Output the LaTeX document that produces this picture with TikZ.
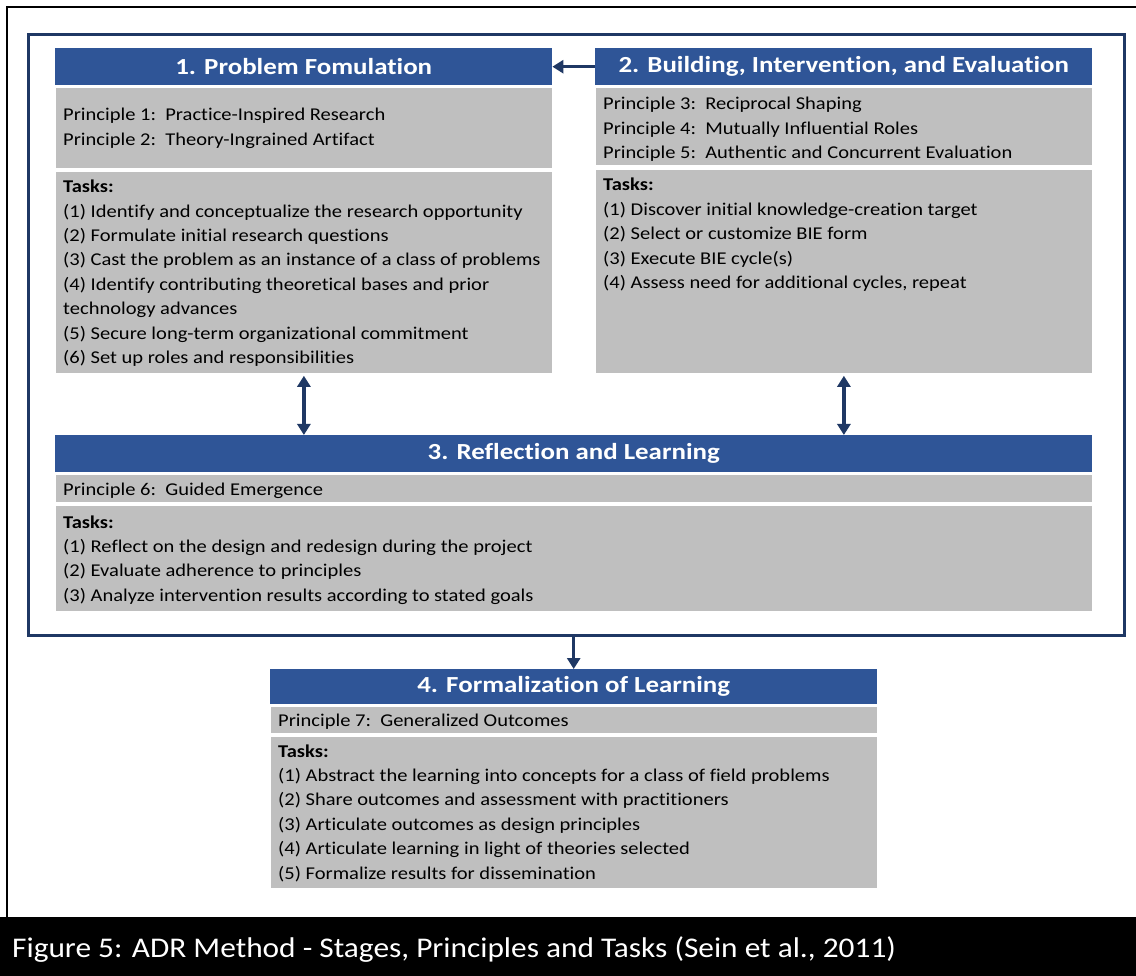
\documentclass[tikz,border=0pt]{standalone}
\usepackage{fontspec}
\setmainfont{Carlito}
\newfontfamily\bodyfont{Carlito}[FakeStretch=1.14,Ligatures=NoCommon]
\newfontfamily\headfont{Carlito}[FakeStretch=1.17,Ligatures=NoCommon]
\newfontfamily\captionfont{Carlito}[FakeStretch=1.1,Ligatures=NoCommon]
\usetikzlibrary{arrows.meta}
\definecolor{hdrblue}{HTML}{2F5597}
\definecolor{navy}{HTML}{1F3864}
\definecolor{panelgray}{HTML}{BFBFBF}
\begin{document}
\begin{tikzpicture}[x=1pt,y=-1pt,
  hdr/.style={fill=hdrblue, text=white, inner sep=0pt, anchor=north west,
    font=\headfont\bfseries\fontsize{23}{28}\selectfont},
  panel/.style={fill=panelgray, draw=white, line width=0.8pt, inner sep=0pt, anchor=north west},
  % body text blocks are placed by the baseline of their last line
  body/.style={anchor=base west, inner sep=0pt, align=left, text=black,
    font=\bodyfont\fontsize{18}{24.4}\selectfont},
  link/.style={draw=navy, line width=3.5pt, -{Triangle[width=13pt,length=11pt]}},
  both/.style={draw=navy, line width=3.5pt,
    {Triangle[width=13pt,length=11pt]}-{Triangle[width=13pt,length=11pt]}},
]
\useasboundingbox (0,0) rectangle (1136,976);
\fill[white] (0,0) rectangle (1136,976);

% outer page frame and caption bar
\draw[black, line width=2.5pt] (1140,7) -- (7,7) -- (7,920);
\fill[black] (0,917) rectangle (1136,976);
\node[anchor=base west, text=white, inner sep=0pt, font=\captionfont\fontsize{28.5}{34}\selectfont]
  (caption) at (12,957) {Figure 5: ADR Method - Stages, Principles and Tasks (Sein et al., 2011)};

% frame around stages 1-3
\node[draw=navy, line width=3pt, anchor=north west, inner sep=0pt,
  minimum width=1096pt, minimum height=601pt] (frame) at (27,33) {};

% stage 1
\node[hdr, minimum width=497pt, minimum height=37pt] (h1) at (55,48) {1. Problem Fomulation};
\node[panel, minimum width=497pt, minimum height=81pt] (p1) at (55,87) {};
\node[panel, minimum width=497pt, minimum height=202pt] (t1) at (55,171) {};
\node[body] (p1txt) at (63,145.4) {Principle 1:\ \ Practice-Inspired Research\\
  Principle 2:\ \ Theory-Ingrained Artifact};
\node[body] (t1txt) at (63,363.6) {\textbf{Tasks:}\\
  (1) Identify and conceptualize the research opportunity\\
  (2) Formulate initial research questions\\
  (3) Cast the problem as an instance of a class of problems\\
  (4) Identify contributing theoretical bases and prior\\
  technology advances\\
  (5) Secure long-term organizational commitment\\
  (6) Set up roles and responsibilities};

% stage 2
\node[hdr, minimum width=497pt, minimum height=37pt] (h2) at (595,48) {2. Building, Intervention, and Evaluation};
\node[panel, minimum width=497pt, minimum height=78pt] (p2) at (595,87) {};
\node[panel, minimum width=497pt, minimum height=204pt] (t2) at (595,169) {};
\node[body] (p2txt) at (603,158.8) {Principle 3:\ \ Reciprocal Shaping\\
  Principle 4:\ \ Mutually Influential Roles\\
  Principle 5:\ \ Authentic and Concurrent Evaluation};
\node[body] (t2txt) at (603,288.6) {\textbf{Tasks:}\\
  (1) Discover initial knowledge-creation target\\
  (2) Select or customize BIE form\\
  (3) Execute BIE cycle(s)\\
  (4) Assess need for additional cycles, repeat};

% stage 3
\node[hdr, minimum width=1037pt, minimum height=37pt] (h3) at (55,435) {3. Reflection and Learning};
\node[panel, minimum width=1037pt, minimum height=28pt] (p3) at (55,474) {};
\node[panel, minimum width=1037pt, minimum height=106pt] (t3) at (55,505) {};
\node[body] (p3txt) at (63,495) {Principle 6:\ \ Guided Emergence};
\node[body] (t3txt) at (63,601.2) {\textbf{Tasks:}\\
  (1) Reflect on the design and redesign during the project\\
  (2) Evaluate adherence to principles\\
  (3) Analyze intervention results according to stated goals};

% stage 4
\node[hdr, minimum width=607pt, minimum height=35pt] (h4) at (270,669) {4. Formalization of Learning};
\node[panel, minimum width=607pt, minimum height=27pt] (p4) at (270,706) {};
\node[panel, minimum width=607pt, minimum height=152pt] (t4) at (270,736) {};
\node[body] (p4txt) at (278,726) {Principle 7:\ \ Generalized Outcomes};
\node[body] (t4txt) at (278,879) {\textbf{Tasks:}\\
  (1) Abstract the learning into concepts for a class of field problems\\
  (2) Share outcomes and assessment with practitioners\\
  (3) Articulate outcomes as design principles\\
  (4) Articulate learning in light of theories selected\\
  (5) Formalize results for dissemination};

% connectors
\draw[link] (h2.west) -- (h1.east);
\draw[both] ([yshift=-2pt]t1.south) -- (t1.south |- h3.north);
\draw[both] ([yshift=-2pt]t2.south) -- (t2.south |- h3.north);
\draw[link] (h4.north |- frame.south) -- (h4.north);
\end{tikzpicture}
\end{document}
